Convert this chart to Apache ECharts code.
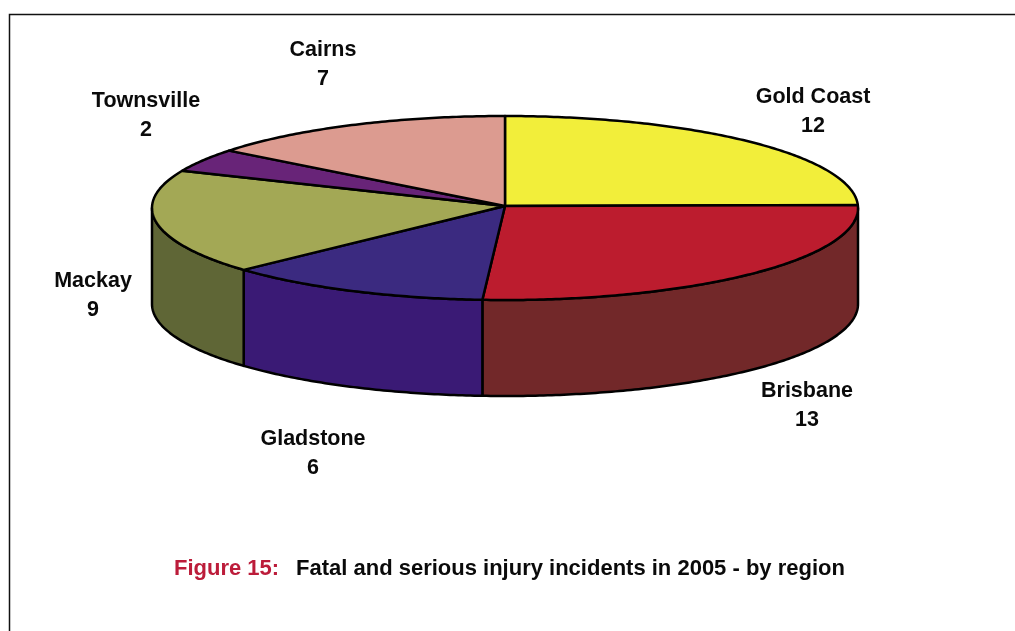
<!DOCTYPE html>
<html><head><meta charset="utf-8">
<style>html,body{margin:0;padding:0;background:#fff}#c{width:1015px;height:631px}</style>
<script src="https://cdn.jsdelivr.net/npm/echarts@6/dist/echarts.min.js"></script>
</head><body><div id="c"></div>
<script>
var regions = ['Gold Coast','Brisbane','Gladstone','Mackay','Townsville','Cairns'];
var incidents = [12,13,6,9,2,7];
var topColors = ['#F2EE3A','#BC1C2E','#3B2A80','#A3A855','#682478','#DC9B90'];
var sideColors = ['#8A8620','#722829','#3A1A75','#5F6636','#3C1046','#7E5850'];
var labelAnchors = [[813,112],[807,406],[313,454],[93,296],[146,116],[323,65]];
var FONT = '"Liberation Sans", Arial, sans-serif';
var geo = {cx:505, cy:208, apexY:206, rx:353, ry:92, depth:96};

var total = incidents.reduce(function(a,b){return a+b;},0);
var starts = []; incidents.reduce(function(acc,v,i){starts[i]=acc; return acc+v;},0);
function deg(v){return v/total*360;}
function pt(a,dy){var r=a*Math.PI/180; return [geo.cx+geo.rx*Math.sin(r), geo.cy-geo.ry*Math.cos(r)+(dy||0)];}
function arc(a,b,dy){var n=Math.max(2,Math.ceil(Math.abs(b-a)*1.5)),o=[];for(var i=0;i<=n;i++)o.push(pt(a+(b-a)*i/n,dy));return o;}
var lineStyle = {stroke:'#000', lineWidth:2.5, lineJoin:'round'};

function renderItem(params, api){
  var i = params.dataIndex, v = api.value(0);
  var a = deg(starts[i]), b = a+deg(v), kids = [];
  var s = Math.max(a,90), e = Math.min(b,270);
  if (e>s){
    kids.push({type:'polygon', z2:1, shape:{points:arc(s,e,0).concat(arc(e,s,geo.depth))},
      style:Object.assign({fill:sideColors[i]},lineStyle)});
  }
  kids.push({type:'polygon', z2:2, shape:{points:[[geo.cx,geo.apexY]].concat(arc(a,b,0))},
    style:Object.assign({fill:topColors[i]},lineStyle)});
  kids.push({type:'text', z2:3, style:{x:labelAnchors[i][0], y:labelAnchors[i][1],
    text:regions[i]+'\n'+v, align:'center', verticalAlign:'middle', lineHeight:29,
    fontFamily:FONT, fontWeight:'bold', fontSize:21.5, fill:'#0a0a0a'}});
  return {type:'group', children:kids};
}

echarts.init(document.getElementById('c'),null,{renderer:'canvas'}).setOption({
  animation:false,
  backgroundColor:'#fff',
  title:{left:174, top:558, padding:0,
    text:'{a|Figure 15:}{b|Fatal and serious injury incidents in 2005 - by region}',
    textStyle:{rich:{
      a:{fontFamily:FONT, fontWeight:'bold', fontSize:22, color:'#BC1C3A', width:122},
      b:{fontFamily:FONT, fontWeight:'bold', fontSize:22, color:'#0a0a0a'}
    }}},
  graphic:[{type:'polyline', shape:{points:[[9.5,631],[9.5,14.5],[1015,14.5]]},
    style:{stroke:'#111',lineWidth:1.5,fill:null}}],
  series:[{type:'custom', coordinateSystem:'none', renderItem:renderItem,
    data:incidents.map(function(v,i){return {name:regions[i],value:[v]};})}]
});
</script></body></html>
